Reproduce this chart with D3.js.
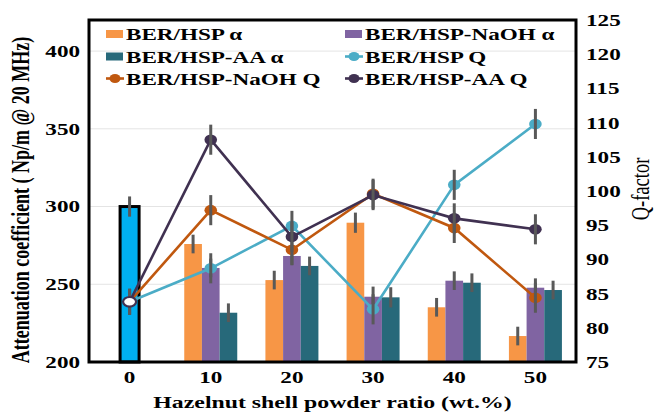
<!DOCTYPE html>
<html>
<head>
<meta charset="UTF-8">
<title>Attenuation / Q-factor</title>
<style>
  body { margin: 0; background: #fff; }
  text { font-family: "Liberation Serif", "Times New Roman", serif; fill: #000; }
</style>
</head>
<body>
<div id="chart"></div>
<script src="https://cdn.jsdelivr.net/npm/d3@7"></script>
<script>
// data
const categories = [0, 10, 20, 30, 40, 50];
const neatAlpha = [300];            // neat BER at 0 wt.%
const neatAlphaErr = [6.5];
const hspAlpha = [null, 275.9, 252.7, 289.6, 235.2, 216.7];
const naohAlpha = [null, 260.5, 268.2, 242.0, 252.3, 247.8];
const aaAlpha = [null, 231.7, 261.8, 241.6, 251.0, 246.3];
const alphaErr = [null, 6, 6, 6.5, 6, 6];
const hspQ = [83.8, 88.7, 94.9, 82.7, 100.9, 109.8];
const naohQ = [83.8, 97.2, 91.4, 99.6, 94.6, 84.4];
const aaQ = [83.8, 107.5, 93.3, 99.4, 96.0, 94.4];
const qErr = [1.9, 2.2, 2.2, 2.2, 2.2, 2.2];
const leftTicks = [200, 250, 300, 350, 400];
const rightTicks = [75, 80, 85, 90, 95, 100, 105, 110, 115, 120, 125];

const W = 654, H = 412;
const SX = 1.36; // the picture is stretched sideways, text follows it
const m = { left: 89, right: 576, top: 20, bottom: 362 };

const svg = d3.select("#chart").append("svg")
    .attr("width", W)
    .attr("height", H);

const x = d3.scaleBand().domain(categories).range([m.left, m.right]);
const cx = c => x(c) + x.bandwidth() / 2;
const yL = d3.scaleLinear().domain([200, 420]).range([m.bottom, m.top]);
const yR = d3.scaleLinear().domain([75, 125]).range([m.bottom, m.top]);
const sub = d3.scaleBand().domain(["hsp", "naoh", "aa"]).range([-26.5, 26.5]);

const colors = {
    neat: "#00B0F0", hsp: "#F79646", naoh: "#8064A2", aa: "#27697A",
    hspQ: "#4BACC6", naohQ: "#C0580F", aaQ: "#403151", err: "#595959"
};

function label(g, px, py, str, anchor, size, weight, rot) {
    return g.append("text")
        .attr("transform", `translate(${px},${py}) scale(${SX},1)` + (rot ? " rotate(-90)" : ""))
        .attr("text-anchor", anchor)
        .attr("font-size", size)
        .attr("font-weight", weight)
        .text(str);
}

// grid
svg.append("g").selectAll("line").data(leftTicks.slice(1)).join("line")
    .attr("x1", m.left).attr("x2", m.right)
    .attr("y1", d => yL(d)).attr("y2", d => yL(d))
    .attr("stroke", "#e4e4e4").attr("stroke-width", 1);

// bars
const barData = [];
categories.forEach((c, i) => {
    [["hsp", hspAlpha], ["naoh", naohAlpha], ["aa", aaAlpha]].forEach(([k, arr]) => {
        if (arr[i] != null) barData.push({ c, k, v: arr[i], e: alphaErr[i] });
    });
});
svg.append("g").selectAll("rect").data(barData).join("rect")
    .attr("x", d => cx(d.c) + sub(d.k))
    .attr("width", sub.bandwidth())
    .attr("y", d => yL(d.v))
    .attr("height", d => yL(200) - yL(d.v))
    .attr("fill", d => colors[d.k]);

// neat bar with black border
svg.append("g").selectAll("rect").data(neatAlpha).join("rect")
    .attr("x", (d, i) => cx(categories[i]) - 9.5)
    .attr("width", 19)
    .attr("y", d => yL(d))
    .attr("height", d => yL(200) - yL(d))
    .attr("fill", colors.neat)
    .attr("stroke", "#000").attr("stroke-width", 3);

// bar error bars
const errG = svg.append("g").attr("stroke", colors.err).attr("stroke-width", 3);
errG.selectAll(".eb").data(barData).join("line")
    .attr("x1", d => cx(d.c) + sub(d.k) + sub.bandwidth() / 2)
    .attr("x2", d => cx(d.c) + sub(d.k) + sub.bandwidth() / 2)
    .attr("y1", d => yL(d.v - d.e)).attr("y2", d => yL(d.v + d.e));
errG.selectAll(".en").data(neatAlpha).join("line")
    .attr("x1", (d, i) => cx(categories[i])).attr("x2", (d, i) => cx(categories[i]))
    .attr("y1", (d, i) => yL(d - neatAlphaErr[i])).attr("y2", (d, i) => yL(d + neatAlphaErr[i]));

// Q lines
const qSeries = [
    { key: "hspQ", vals: hspQ },
    { key: "naohQ", vals: naohQ },
    { key: "aaQ", vals: aaQ }
];
const line = d3.line().x((d, i) => cx(categories[i])).y(d => yR(d));
qSeries.forEach(s => {
    const g = svg.append("g");
    g.append("path").attr("d", line(s.vals))
        .attr("fill", "none").attr("stroke", colors[s.key]).attr("stroke-width", 2.6);
    g.selectAll("ellipse").data(s.vals.slice(1)).join("ellipse")
        .attr("cx", (d, i) => cx(categories[i + 1])).attr("cy", d => yR(d))
        .attr("rx", 6.3).attr("ry", 5.3)
        .attr("fill", colors[s.key]);
    g.selectAll("line").data(s.vals).join("line")
        .attr("x1", (d, i) => cx(categories[i])).attr("x2", (d, i) => cx(categories[i]))
        .attr("y1", (d, i) => yR(d - qErr[i])).attr("y2", (d, i) => yR(d + qErr[i]))
        .attr("stroke", colors.err).attr("stroke-width", 3);
});
// shared starting point at 0 wt.%
svg.append("ellipse")
    .attr("cx", cx(categories[0])).attr("cy", yR(aaQ[0]))
    .attr("rx", 6.5).attr("ry", 4.8)
    .attr("fill", "#fff").attr("stroke", colors.aaQ).attr("stroke-width", 2.2);

// axes
const axL = svg.append("g").attr("transform", `translate(${m.left},0)`)
    .call(d3.axisLeft(yL).tickValues(leftTicks).tickSize(0).tickSizeOuter(0).tickPadding(6.6));
const axR = svg.append("g").attr("transform", `translate(${m.right},0)`)
    .call(d3.axisRight(yR).tickValues(rightTicks).tickSize(0).tickSizeOuter(0).tickPadding(7.4));
const axB = svg.append("g").attr("transform", `translate(0,${m.bottom})`)
    .call(d3.axisBottom(x).tickSize(0).tickSizeOuter(0).tickPadding(9));
[axL, axR, axB].forEach(a => {
    a.select(".domain").remove();
    a.selectAll("text")
        .attr("font-family", "'Liberation Serif', serif")
        .attr("font-size", 17).attr("font-weight", "bold")
        .attr("fill", "#000");
});
axL.selectAll("text").attr("transform", `scale(${SX},1)`);
axR.selectAll("text").attr("transform", `scale(${SX},1)`);
axB.selectAll("text").attr("transform", `scale(${SX},1)`)
    .attr("x", function () { return 0; });

// frame
svg.append("rect")
    .attr("x", m.left).attr("y", m.top)
    .attr("width", m.right - m.left).attr("height", m.bottom - m.top)
    .attr("fill", "none").attr("stroke", "#000").attr("stroke-width", 3);

// titles
label(svg, (m.left + m.right) / 2, 408, "Hazelnut shell powder ratio (wt.%)", "middle", 17.5, "bold");
label(svg, 29, 200, "Attenuation coefficient ( Np/m @ 20 MHz)", "middle", 18, "bold", true);
label(svg, 649, 189, "Q-factor", "middle", 18.5, "normal", true);

// legend
const legendItems = [
    { name: "BER/HSP \u03b1", key: "hsp", type: "bar", col: 0, row: 0 },
    { name: "BER/HSP-NaOH \u03b1", key: "naoh", type: "bar", col: 1, row: 0 },
    { name: "BER/HSP-AA \u03b1", key: "aa", type: "bar", col: 0, row: 1 },
    { name: "BER/HSP Q", key: "hspQ", type: "line", col: 1, row: 1 },
    { name: "BER/HSP-NaOH Q", key: "naohQ", type: "line", col: 0, row: 2 },
    { name: "BER/HSP-AA Q", key: "aaQ", type: "line", col: 1, row: 2 }
];
const colX = [106, 345];
const rowY = [34, 56.5, 78.5];
const leg = svg.append("g");
legendItems.forEach(it => {
    const lx = colX[it.col], ly = rowY[it.row];
    if (it.type === "bar") {
        leg.append("rect").attr("x", lx).attr("y", ly - 4).attr("width", 17).attr("height", 8)
            .attr("fill", colors[it.key]);
    } else {
        leg.append("line").attr("x1", lx).attr("x2", lx + 18).attr("y1", ly).attr("y2", ly)
            .attr("stroke", colors[it.key]).attr("stroke-width", 2.6);
        leg.append("ellipse").attr("cx", lx + 9).attr("cy", ly).attr("rx", 5.5).attr("ry", 4.5)
            .attr("fill", colors[it.key]);
    }
    label(leg, lx + 20, ly + 6, it.name, "start", 17, "bold");
});
</script>
</body>
</html>
